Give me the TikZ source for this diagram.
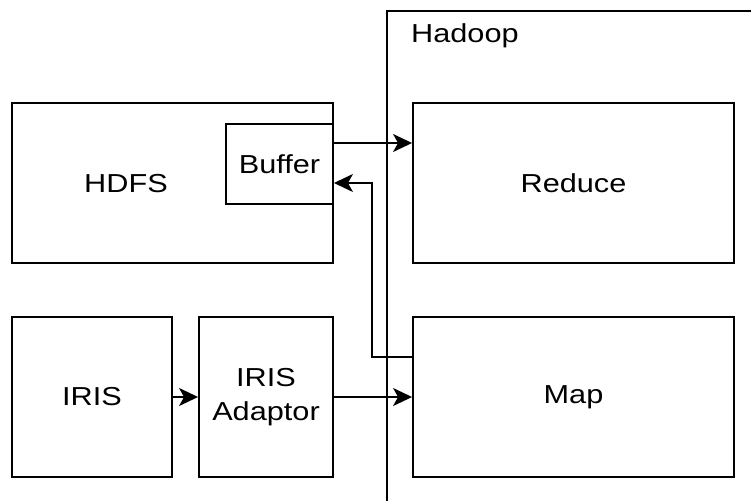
\documentclass[tikz,border=0pt]{standalone}
\usepackage{fontspec}
\setmainfont{Liberation Sans}[FakeStretch=1.18]
\usetikzlibrary{arrows.meta, positioning}
\tikzset{
  blk/.style  = {rectangle, draw=black, line width=1.9pt, fill=white, align=center,
                 inner sep=0pt, font=\fontsize{26}{34}\selectfont},
  txt/.style  = {inner sep=0pt, font=\fontsize{26}{34}\selectfont},
  flow/.style = {-{Stealth[length=19pt, width=18pt, inset=5pt]}, line width=1.9pt},
}
\begin{document}
\begin{tikzpicture}[x=1pt, y=-1pt]
  \useasboundingbox (0,0) rectangle (751,500);
  \clip (0,0) rectangle (751,500);
  % container runs off the right and bottom edge
  \node[blk, minimum width=420pt, minimum height=540pt, anchor=north west] (hadoop) at (386,10) {};
  \node[txt, anchor=base west] (hadooplbl) at (411,43) {Hadoop};
  \node[blk, minimum width=321pt, minimum height=160pt] (hdfs) at (172.5,183) {};
  \node[txt] (hdfslbl) at (126,184) {HDFS};
  \node[blk, minimum width=107pt, minimum height=80pt] (buffer) at (279.5,164) {Buffer};
  \node[blk, minimum width=321pt, minimum height=160pt] (reduce) at (573.5,183) {Reduce};
  \node[blk, minimum width=160pt, minimum height=160pt] (iris) at (92,397) {IRIS};
  \node[blk, minimum width=134pt, minimum height=160pt] (adaptor) at (266,397) {IRIS\\Adaptor};
  \node[blk, minimum width=321pt, minimum height=160pt] (map) at (573.5,397) {Map};
  \foreach \a/\b in {iris/adaptor,adaptor/map}{\draw[flow] (\a) -- (\b);}
  \draw[flow] ([yshift=21pt]buffer.east) -- ([yshift=21pt]buffer.east -| reduce.west);
  \draw[flow] ([yshift=40pt]map.west) -- ++(-40,0) |- ([yshift=-19pt]buffer.east);
\end{tikzpicture}
\end{document}
